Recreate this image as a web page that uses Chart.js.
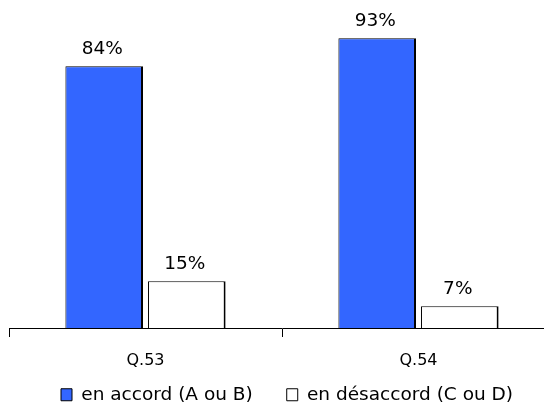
<!DOCTYPE html>
<html>
<head>
<meta charset="utf-8">
<script src="https://cdn.jsdelivr.net/npm/chart.js@4.4.1/dist/chart.umd.min.js"></script>
<style>
  html, body { margin: 0; padding: 0; background: #fff; overflow: hidden; }
  #wrap { width: 544px; height: 406px; overflow: hidden; position: relative; }
  canvas { display: block; }
</style>
</head>
<body>
<div id="wrap"><canvas id="c" width="556" height="406"></canvas></div>
<script>
const categories = ['Q.53', 'Q.54'];
const seriesNames = ['en accord (A ou B)', 'en désaccord (C ou D)'];
const accordValues = [84, 93];
const desaccordValues = [15, 7];

const FONT = 'DejaVu Sans';

const valueLabels = {
  id: 'valueLabels',
  afterDatasetsDraw(chart) {
    const ctx = chart.ctx;
    ctx.save();
    ctx.font = '18.5px "' + FONT + '"';
    ctx.fillStyle = '#000';
    ctx.textAlign = 'center';
    ctx.textBaseline = 'alphabetic';
    chart.data.datasets.forEach((ds, di) => {
      const meta = chart.getDatasetMeta(di);
      meta.data.forEach((bar, i) => {
        ctx.fillText(ds.data[i] + '%', bar.x - 2, bar.y - 12);
      });
    });
    ctx.restore();
  }
};

const legendShift = {
  id: 'legendShift',
  afterLayout(chart) {
    const lg = chart.legend;
    if (!lg) return;
    const dx = 18, dy = -20.5;
    lg.left += dx; lg.right += dx;
    lg.top += dy; lg.bottom += dy;
  }
};

new Chart(document.getElementById('c'), {
  type: 'bar',
  data: {
    labels: categories,
    datasets: [
      {
        label: seriesNames[0],
        data: accordValues,
        backgroundColor: '#3366FF',
        borderColor: '#000',
        borderWidth: { top: 1, left: 1, right: 2, bottom: 0 },
        borderSkipped: false,
        categoryPercentage: 0.605,
        barPercentage: 0.94
      },
      {
        label: seriesNames[1],
        data: desaccordValues,
        backgroundColor: '#FFFFFF',
        borderColor: '#000',
        borderWidth: { top: 1, left: 1, right: 2, bottom: 0 },
        borderSkipped: false,
        categoryPercentage: 0.605,
        barPercentage: 0.94
      }
    ]
  },
  options: {
    responsive: false,
    animation: false,
    devicePixelRatio: 1,
    layout: { padding: { left: 9, right: 1, top: 16.4, bottom: -28.5 } },
    plugins: {
      legend: {
        display: true,
        position: 'bottom',
        align: 'start',
        labels: {
          boxWidth: 11,
          boxHeight: 12,
          padding: 34,
          color: '#000',
          font: { family: FONT, size: 18.5 }
        }
      },
      tooltip: { enabled: false }
    },
    scales: {
      x: {
        afterFit(scale) { scale.height = 44; },
        grid: {
          display: true,
          drawOnChartArea: false,
          drawTicks: true,
          tickLength: 9,
          color: '#000',
          lineWidth: 1,
          offset: true
        },
        border: { display: true, color: '#000', width: 1 },
        ticks: {
          color: '#000',
          padding: 14,
          font: { family: FONT, size: 16 }
        }
      },
      y: {
        display: false,
        min: 0,
        max: 100
      }
    }
  },
  plugins: [valueLabels, legendShift]
});
</script>
</body>
</html>
